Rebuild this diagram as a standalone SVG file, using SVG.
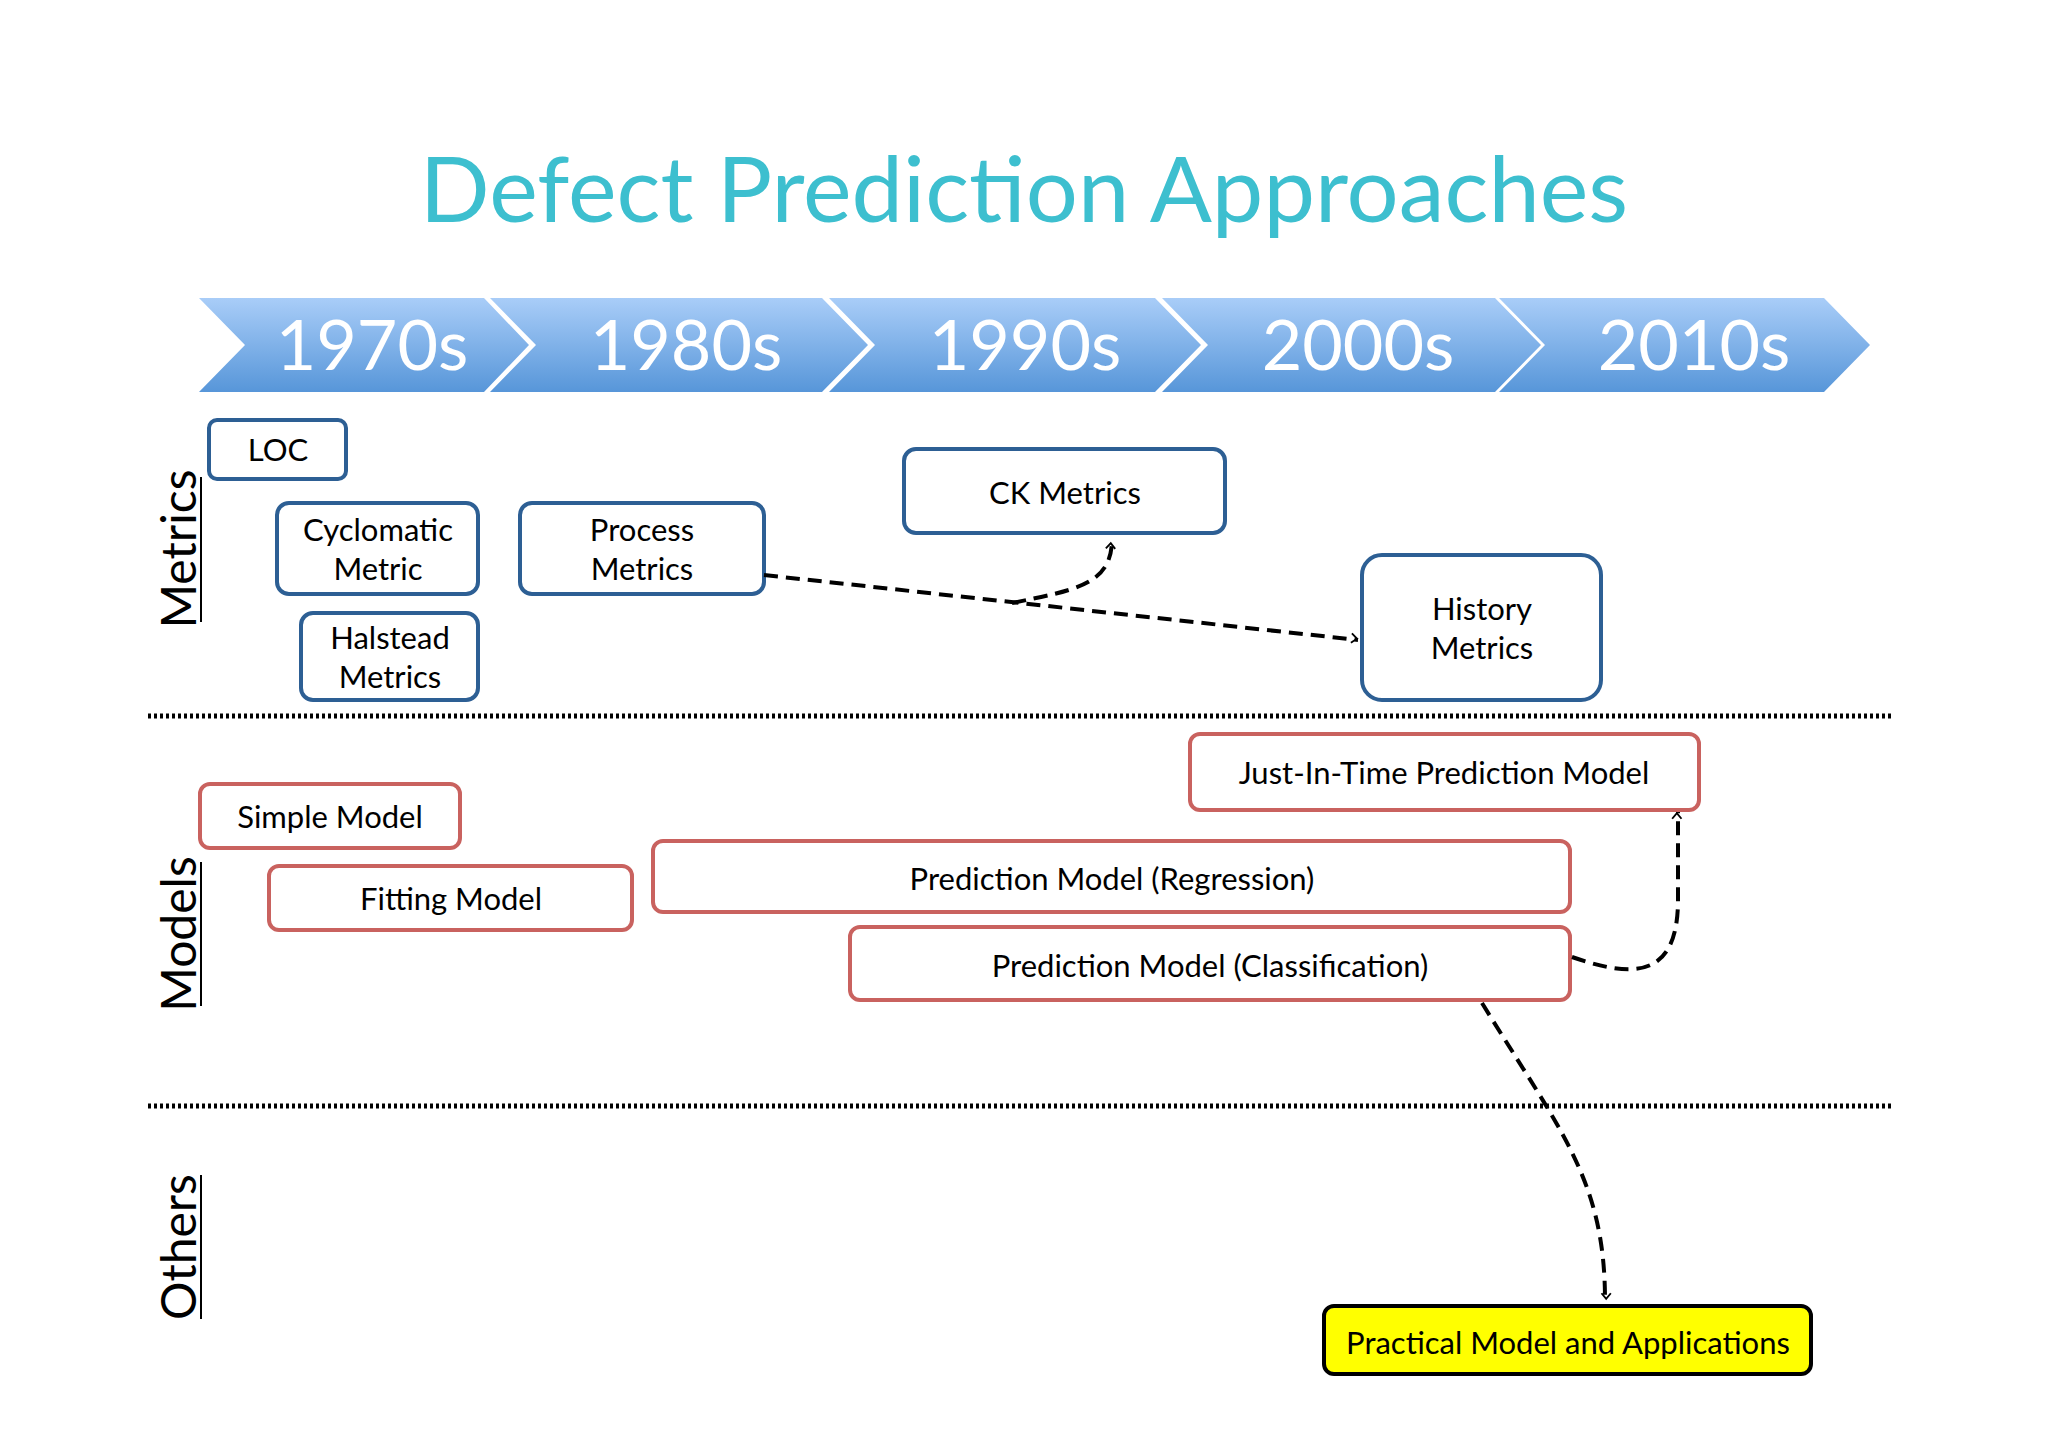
<svg xmlns="http://www.w3.org/2000/svg" width="2048" height="1447" viewBox="0 0 2048 1447">
<defs>
<linearGradient id="g" x1="0" y1="0" x2="0" y2="1"><stop offset="0" stop-color="#a9cdf8"/><stop offset="1" stop-color="#5796d9"/></linearGradient>
<marker id="ah" viewBox="0 0 12 12" refX="10" refY="6" markerWidth="7" markerHeight="7" orient="auto" markerUnits="userSpaceOnUse" overflow="visible"><path d="M-2,-4 L10,6 L-2,16" fill="none" stroke="#000" stroke-width="4" transform="scale(0.8) translate(0,-1)"/></marker>
<style>
text{font-family:Lato,"Open Sans","Liberation Sans",sans-serif;}
.yr{fill:#fff;font-size:70px;text-anchor:middle;}
.b{fill:#fff;stroke:#2d5f94;stroke-width:4;}
.r{fill:#fff;stroke:#c9625f;stroke-width:4;}
.t{font-size:31px;fill:#000;text-anchor:middle;}
.side{font-size:48px;fill:#000;text-anchor:middle;}
.dot{stroke:#000;stroke-width:5;stroke-dasharray:3 3;}
.c{fill:none;stroke:#000;stroke-width:4;stroke-dasharray:14 8;marker-end:url(#ah);}
</style>
</defs>
<rect width="2048" height="1447" fill="#fff"/>
<text x="1024" y="222" font-size="92" fill="#3dbfcf" text-anchor="middle">Defect Prediction Approaches</text>
<g id="timeline" fill="url(#g)">
<path d="M199,298 L484,298 L529,345 L484,392 L199,392 L245,345Z"/>
<path d="M490,298 L822,298 L868,345 L822,392 L490,392 L536,345Z"/>
<path d="M829,298 L1155,298 L1201,345 L1155,392 L829,392 L875,345Z"/>
<path d="M1162,298 L1495,298 L1541,345 L1495,392 L1162,392 L1208,345Z"/>
<path d="M1499,298 L1824,298 L1870,345 L1824,392 L1499,392 L1545,345Z"/>
<text class="yr" x="372" y="370">1970s</text>
<text class="yr" x="686" y="370">1980s</text>
<text class="yr" x="1025" y="370">1990s</text>
<text class="yr" x="1358" y="370">2000s</text>
<text class="yr" x="1694" y="370">2010s</text>
</g>
<g id="labels">
<text class="side" transform="translate(196,549) rotate(-90)">Metrics</text>
<line x1="201" y1="477" x2="201" y2="622" stroke="#000" stroke-width="2"/>
<text class="side" transform="translate(196,934) rotate(-90)">Models</text>
<line x1="201" y1="862" x2="201" y2="1006" stroke="#000" stroke-width="2"/>
<text class="side" transform="translate(196,1247) rotate(-90)">Others</text>
<line x1="201" y1="1175" x2="201" y2="1319" stroke="#000" stroke-width="2"/>
<line class="dot" x1="148" y1="716" x2="1894" y2="716"/>
<line class="dot" x1="148" y1="1106" x2="1894" y2="1106"/>
</g>
<g id="loc"><rect class="b" x="209" y="420" width="137" height="59" rx="8"/><text class="t" x="278" y="461">LOC</text></g>
<g id="cyclomatic"><rect class="b" x="277" y="503" width="201" height="91" rx="12"/><text class="t" x="378" y="541">Cyclomatic</text><text class="t" x="378" y="580">Metric</text></g>
<g id="halstead"><rect class="b" x="301" y="613" width="177" height="87" rx="12"/><text class="t" x="390" y="649">Halstead</text><text class="t" x="390" y="688">Metrics</text></g>
<g id="process"><rect class="b" x="520" y="503" width="244" height="91" rx="12"/><text class="t" x="642" y="541">Process</text><text class="t" x="642" y="580">Metrics</text></g>
<g id="ck"><rect class="b" x="904" y="449" width="321" height="84" rx="12"/><text class="t" x="1065" y="504">CK Metrics</text></g>
<g id="history"><rect class="b" x="1362" y="555" width="239" height="145" rx="20"/><text class="t" x="1482" y="620">History</text><text class="t" x="1482" y="659">Metrics</text></g>
<g id="jit"><rect class="r" x="1190" y="734" width="509" height="76" rx="10"/><text class="t" x="1444" y="784">Just-In-Time Prediction Model</text></g>
<g id="simple"><rect class="r" x="200" y="784" width="260" height="64" rx="10"/><text class="t" x="330" y="828">Simple Model</text></g>
<g id="fitting"><rect class="r" x="269" y="866" width="363" height="64" rx="10"/><text class="t" x="451" y="910">Fitting Model</text></g>
<g id="regression"><rect class="r" x="653" y="841" width="917" height="71" rx="10"/><text class="t" x="1112" y="890">Prediction Model (Regression)</text></g>
<g id="classification"><rect class="r" x="850" y="927" width="720" height="73" rx="10"/><text class="t" x="1210" y="977">Prediction Model (Classification)</text></g>
<g id="practical"><rect x="1324" y="1306" width="487" height="68" rx="10" fill="#ffff00" stroke="#000" stroke-width="4"/><text class="t" x="1568" y="1354">Practical Model and Applications</text></g>
<g id="connectors">
<path class="c" d="M764,575 L1358,640"/>
<path class="c" d="M1012,603 C1075,590 1110,585 1112,542"/>
<path class="c" d="M1572,957 C1625,975 1678,985 1678,900 L1678,812"/>
<path class="c" d="M1482,1003 C1560,1130 1605,1180 1605,1300"/>
</g>
</svg>
